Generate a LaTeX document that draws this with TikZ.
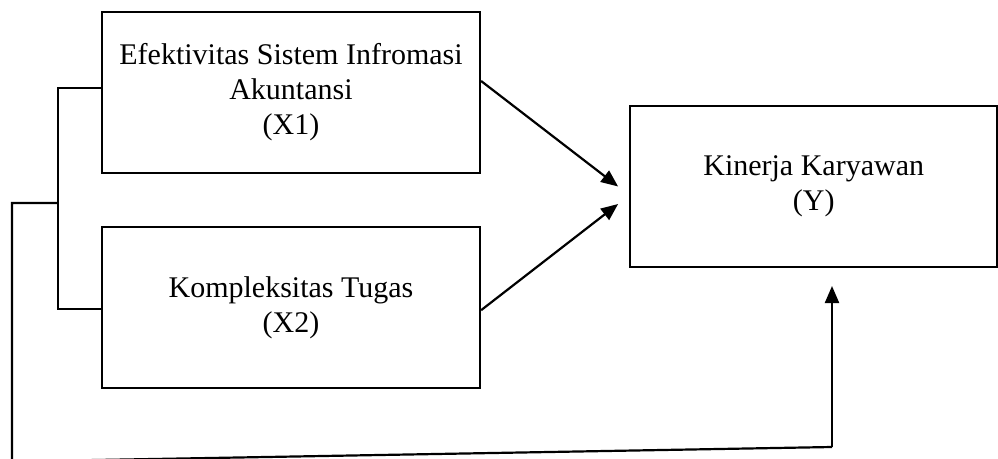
\documentclass[tikz,border=0pt]{standalone}
\usepackage{fontspec}
\setmainfont{Liberation Serif}
\usetikzlibrary{arrows.meta,positioning}

\begin{document}
\begin{tikzpicture}[
  x=1pt,y=1pt,
  every node/.style={font=\fontsize{30}{35}\selectfont,align=center},
  varbox/.style={rectangle,draw=black,line width=2.2pt,inner sep=0pt,
                 minimum width=378pt,minimum height=161pt},
  arrow/.style={-{Triangle[length=17pt,width=14pt]},line width=2.2pt},
  link/.style={line width=2.2pt}
]
\useasboundingbox (0,0) rectangle (998,-458);

\node[varbox] (x1) at (291,-92.5) {Efektivitas Sistem Infromasi\\Akuntansi\\(X1)};
\node[varbox,below=52pt of x1] (x2) {Kompleksitas Tugas\\(X2)};
\node[varbox,minimum width=367pt,right=148pt of x1,yshift=-94pt] (y) {Kinerja Karyawan\\(Y)};

% bracket joining X1 and X2
\coordinate (btop) at (58,-88);
\coordinate (bbot) at (58,-309);
\coordinate (bmid) at (58,-203);
\coordinate (lmid) at (12,-203);
\coordinate (lbot) at (12,-461.5);
\coordinate (rbot) at (832,-447);
\coordinate (yin)  at (832,-286);

\draw[link] (x1.west |- btop) -- (btop) -- (bbot) -- (x2.west |- bbot);
\draw[link] (bmid) -- (lmid) -- (lbot) -- (rbot);
\draw[arrow] (rbot) -- (yin);

\draw[arrow] ([yshift=11.5pt]x1.east) -- ([xshift=-11pt]y.west);
\draw[arrow] ([yshift=-2.5pt]x2.east) -- ([xshift=-11pt,yshift=-17.5pt]y.west);
\end{tikzpicture}
\end{document}
